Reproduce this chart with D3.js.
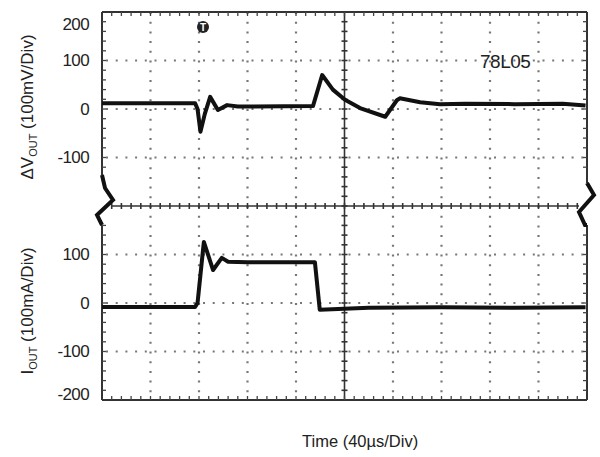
<!DOCTYPE html>
<html>
<head>
<meta charset="utf-8">
<script src="https://cdn.jsdelivr.net/npm/d3@7"></script>
<style>
  body { margin: 0; background: #fff; }
  text { font-family: "Liberation Sans", Arial, sans-serif; fill: #222; }
</style>
</head>
<body>
<div id="chart"></div>
<script>
// time in divisions (40us/div), values in mV / mA
let vTime = [0, 1.92, 1.97, 2.03, 2.12, 2.23, 2.39, 2.58, 2.8, 4.35, 4.54, 4.76, 5.01, 5.32, 5.84, 6.08, 6.14, 6.56, 6.97, 7.5, 8.5, 9.5, 9.97];
let vOut  = [12, 12, 0, -47, -10, 25, -2, 8, 5, 6, 70, 40, 19, 2, -16, 18, 22, 14, 10, 11, 10, 11, 7];

let iTime = [0, 1.92, 1.97, 2.10, 2.29, 2.47, 2.60, 3.0, 4.39, 4.49, 5.5, 7.0, 8.5, 9.97];
let iOut  = [-8, -8, 0, 126, 68, 93, 85, 84, 84, -14, -10, -9, -10, -9];

let vTicks = [200, 100, 0, -100];
let iTicks = [100, 0, -100, -200];

let totalWidth = 600, totalHeight = 457;
let plot = { left: 102, right: 587, top: 12, bottom: 400 };
let mid = (plot.top + plot.bottom) / 2;

const svg = d3.select("#chart")
  .append("svg")
  .attr("width", totalWidth)
  .attr("height", totalHeight);

const x = d3.scaleLinear().domain([0, 10]).range([plot.left, plot.right]);
const yV = d3.scaleLinear().domain([200, -200]).range([plot.top, mid]);
const yI = d3.scaleLinear().domain([200, -200]).range([mid, plot.bottom]);
const yDiv = d3.scaleLinear().domain([0, 8]).range([plot.top, plot.bottom]);

// dotted grid
const grid = svg.append("g").attr("stroke", "#777").attr("stroke-width", 2.2);
d3.range(1, 10).filter(d => d != 5).forEach(d => {
  grid.append("line")
    .attr("x1", x(d)).attr("x2", x(d))
    .attr("y1", plot.top).attr("y2", plot.bottom)
    .attr("stroke-dasharray", "2,7.7");
});
d3.range(1, 8).filter(d => d != 4).forEach(d => {
  grid.append("line")
    .attr("x1", plot.left).attr("x2", plot.right)
    .attr("y1", yDiv(d)).attr("y2", yDiv(d))
    .attr("stroke-dasharray", "2,7.7")
    .attr("stroke-dashoffset", -4);
});

// center cross lines with minor ticks
const cross = svg.append("g").attr("stroke", "#333").attr("stroke-width", 1.6);
cross.append("line")
  .attr("x1", plot.left + 10).attr("x2", plot.right - 8)
  .attr("y1", mid).attr("y2", mid);
cross.append("line")
  .attr("x1", x(5)).attr("x2", x(5))
  .attr("y1", plot.top).attr("y2", plot.bottom);
d3.range(1, 50).forEach(d => {
  cross.append("line")
    .attr("x1", x(d / 5)).attr("x2", x(d / 5))
    .attr("y1", mid - 3).attr("y2", mid + 3);
});
d3.range(1, 40).forEach(d => {
  cross.append("line")
    .attr("x1", x(5) - 3).attr("x2", x(5) + 3)
    .attr("y1", yDiv(d / 5)).attr("y2", yDiv(d / 5));
});

// frame with minor ticks
const frame = svg.append("g").attr("stroke", "#333").attr("stroke-width", 2).attr("fill", "none");
frame.append("line").attr("x1", plot.left).attr("x2", plot.right).attr("y1", plot.top).attr("y2", plot.top);
frame.append("line").attr("x1", plot.left).attr("x2", plot.right).attr("y1", plot.bottom).attr("y2", plot.bottom);
frame.append("line").attr("x1", plot.left).attr("x2", plot.left).attr("y1", plot.top).attr("y2", 175);
frame.append("line").attr("x1", plot.left).attr("x2", plot.left).attr("y1", 225).attr("y2", plot.bottom);
frame.append("line").attr("x1", plot.right).attr("x2", plot.right).attr("y1", plot.top).attr("y2", 183);
frame.append("line").attr("x1", plot.right).attr("x2", plot.right).attr("y1", 225).attr("y2", plot.bottom);

const minor = svg.append("g").attr("stroke", "#444").attr("stroke-width", 1.3);
d3.range(1, 50).forEach(d => {
  minor.append("line").attr("x1", x(d / 5)).attr("x2", x(d / 5)).attr("y1", plot.top).attr("y2", plot.top + 4);
  minor.append("line").attr("x1", x(d / 5)).attr("x2", x(d / 5)).attr("y1", plot.bottom).attr("y2", plot.bottom - 4);
});
d3.range(1, 40).forEach(d => {
  let yy = yDiv(d / 5);
  if (yy > 175 && yy < 225) return;
  minor.append("line").attr("x1", plot.left).attr("x2", plot.left + 4).attr("y1", yy).attr("y2", yy);
  minor.append("line").attr("x1", plot.right).attr("x2", plot.right - 4).attr("y1", yy).attr("y2", yy);
});

// axis break zigzags
svg.append("path")
  .attr("d", "M102,175 L105,188 L113,200 L97,215 L102,225")
  .attr("fill", "none").attr("stroke", "#111").attr("stroke-width", 4);
svg.append("path")
  .attr("d", "M587,183 L594,195 L579,212 L585,225 L587,225")
  .attr("fill", "none").attr("stroke", "#111").attr("stroke-width", 4);

// tick labels
function styleTicks(g, first, last) {
  g.select(".domain").remove();
  g.selectAll("text")
    .attr("font-size", "17px")
    .attr("letter-spacing", "-0.6px")
    .attr("font-family", "Liberation Sans, Arial, sans-serif")
    .attr("fill", "#222")
    .attr("dy", d => d == first ? "1.05em" : (d == last ? "-0.05em" : "0.32em"));
}

svg.append("g")
  .attr("transform", `translate(${plot.left}, 0)`)
  .call(d3.axisLeft(yV).tickValues(vTicks).tickSize(0).tickPadding(13).tickFormat(d => String(d)))
  .call(g => styleTicks(g, 200, null));

svg.append("g")
  .attr("transform", `translate(${plot.left}, 0)`)
  .call(d3.axisLeft(yI).tickValues(iTicks).tickSize(0).tickPadding(13).tickFormat(d => String(d)))
  .call(g => styleTicks(g, null, -200));

// traces
const line = (ys) => d3.line().x(d => x(d[0])).y(d => ys(d[1]));

svg.append("path")
  .datum(vTime.map((t, i) => [t, vOut[i]]))
  .attr("d", line(yV))
  .attr("fill", "none").attr("stroke", "#111").attr("stroke-width", 4)
  .attr("stroke-linejoin", "round");

svg.append("path")
  .datum(iTime.map((t, i) => [t, iOut[i]]))
  .attr("d", line(yI))
  .attr("fill", "none").attr("stroke", "#111").attr("stroke-width", 4)
  .attr("stroke-linejoin", "round");

// trigger marker
svg.append("circle").attr("cx", 203).attr("cy", 27).attr("r", 6).attr("fill", "#222");
svg.append("text").attr("x", 203).attr("y", 31).attr("text-anchor", "middle")
  .attr("font-size", "10px").attr("font-weight", "bold").style("fill", "#fff").text("T");

// device label
svg.append("text")
  .attr("x", 480).attr("y", 68)
  .attr("font-size", "19px")
  .attr("letter-spacing", "-0.5px")
  .text("78L05");

// axis titles
const vLabel = svg.append("text")
  .attr("transform", "translate(33, 107) rotate(-90)")
  .attr("text-anchor", "middle")
  .attr("font-size", "17px");
vLabel.append("tspan").text("ΔV");
vLabel.append("tspan").attr("font-size", "11px").attr("dy", 4).text("OUT");
vLabel.append("tspan").attr("dy", -4).text(" (100mV/Div)");

const iLabel = svg.append("text")
  .attr("transform", "translate(33, 311) rotate(-90)")
  .attr("text-anchor", "middle")
  .attr("font-size", "17px");
iLabel.append("tspan").text("I");
iLabel.append("tspan").attr("font-size", "11px").attr("dy", 4).text("OUT");
iLabel.append("tspan").attr("dy", -4).text(" (100mA/Div)");

svg.append("text")
  .attr("x", 302).attr("y", 447)
  .attr("font-size", "16.5px")
  .text("Time (40µs/Div)");
</script>
</body>
</html>
